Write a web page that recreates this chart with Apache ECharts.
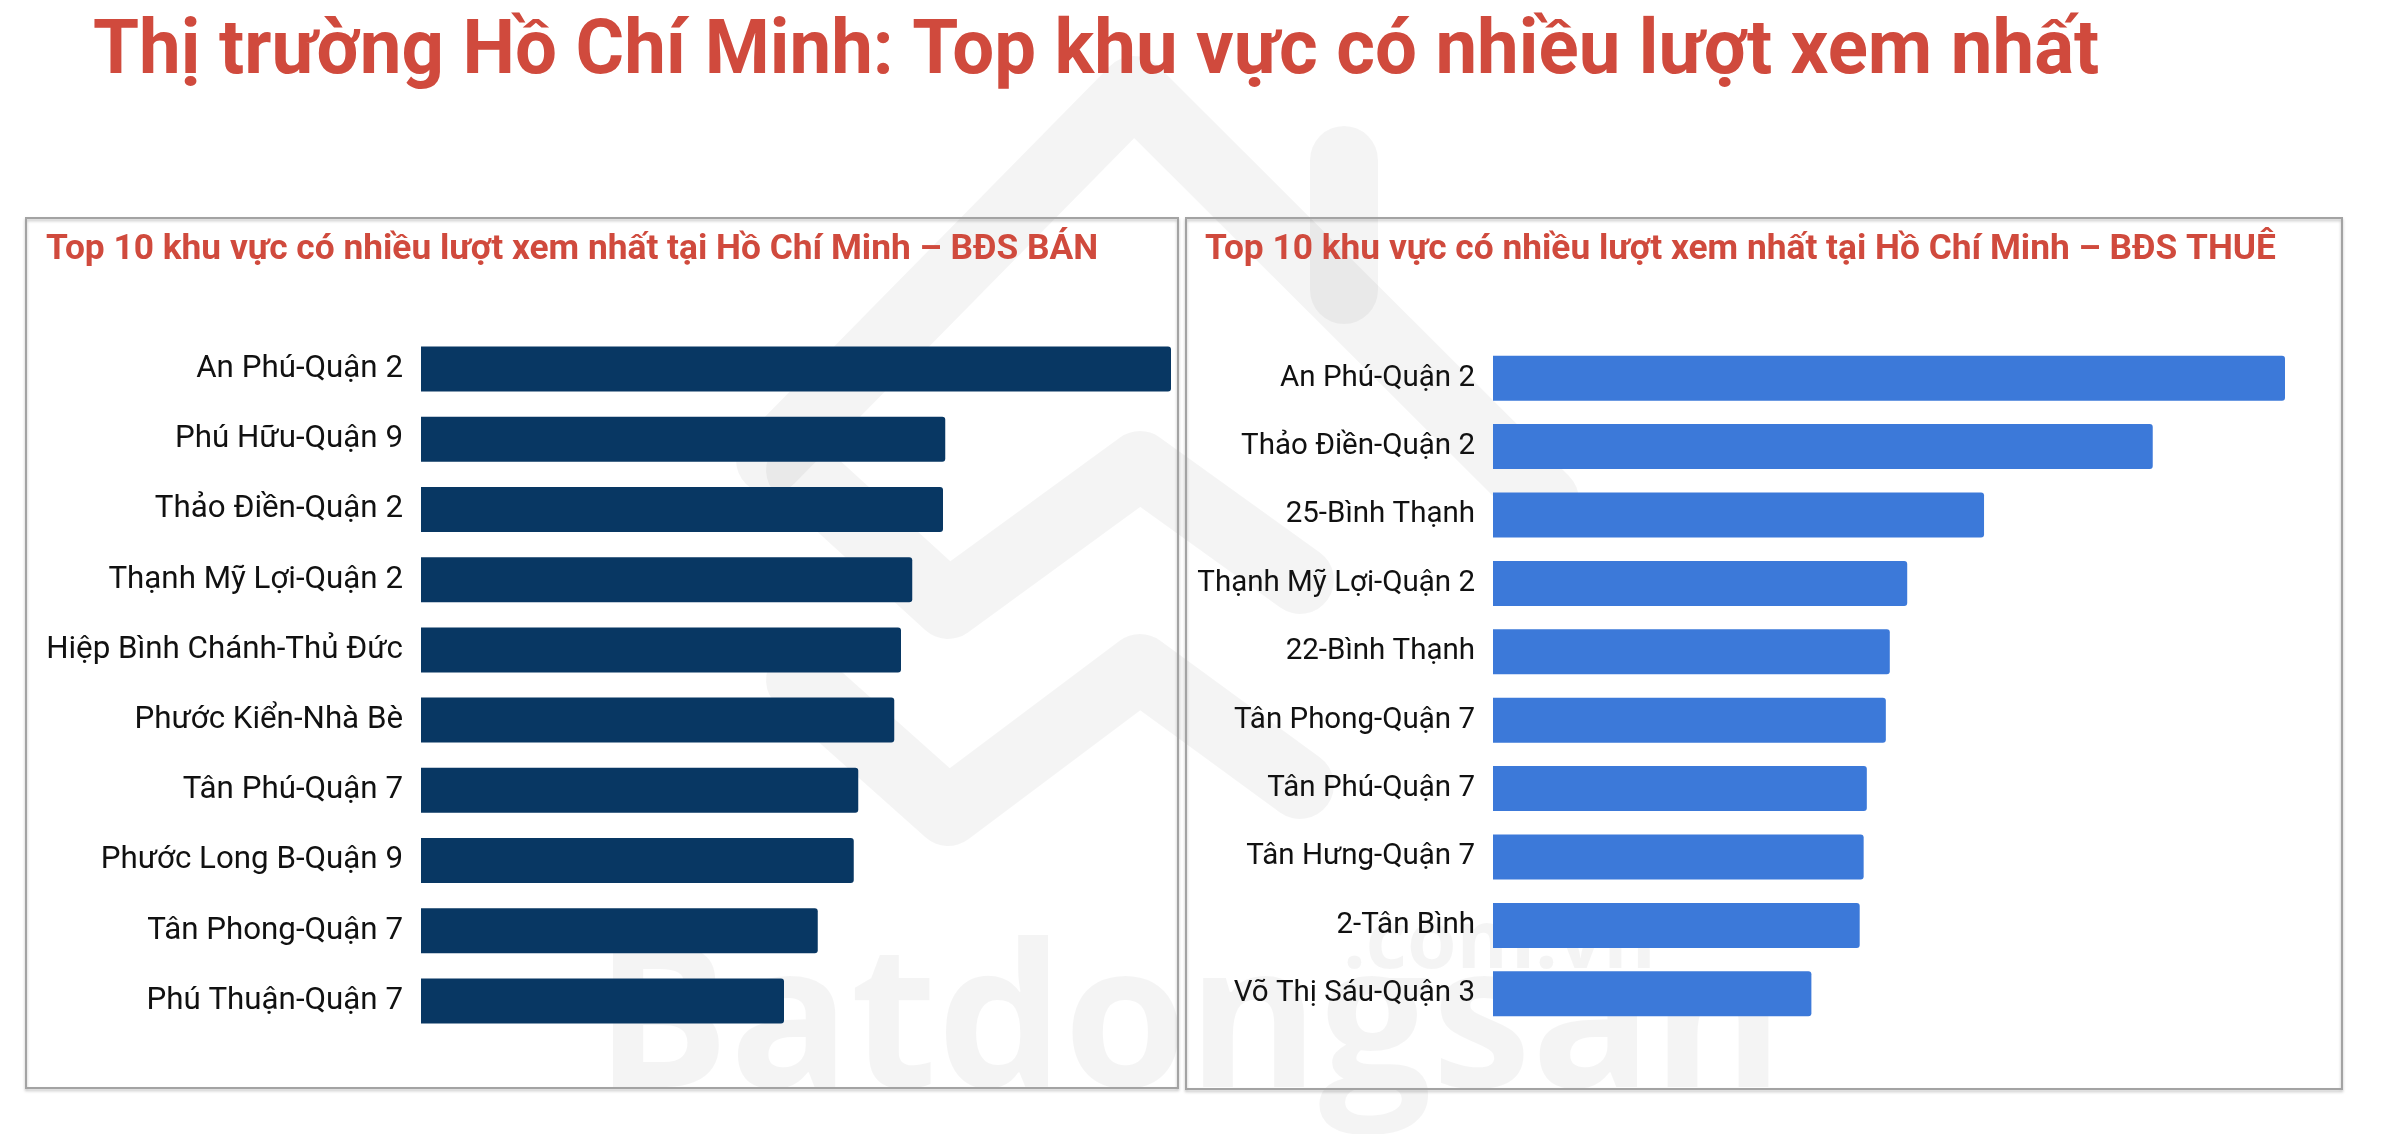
<!DOCTYPE html>
<html>
<head>
<meta charset="utf-8">
<script src="https://cdn.jsdelivr.net/npm/echarts@6/dist/echarts.min.js"></script>
<style>
  html, body { margin: 0; padding: 0; background: #fff; }
  #main { width: 2392px; height: 1134px; }
</style>
</head>
<body>
<div id="main"></div>
<script>
  // top 10 areas, for-sale listings (relative views, top = 100)
  var saleAreas = ['An Phú-Quận 2', 'Phú Hữu-Quận 9', 'Thảo Điền-Quận 2', 'Thạnh Mỹ Lợi-Quận 2',
    'Hiệp Bình Chánh-Thủ Đức', 'Phước Kiển-Nhà Bè', 'Tân Phú-Quận 7', 'Phước Long B-Quận 9',
    'Tân Phong-Quận 7', 'Phú Thuận-Quận 7'];
  var saleViews = [100, 69.9, 69.6, 65.5, 64.0, 63.1, 58.3, 57.7, 52.9, 48.4];

  // top 10 areas, rental listings
  var rentAreas = ['An Phú-Quận 2', 'Thảo Điền-Quận 2', '25-Bình Thạnh', 'Thạnh Mỹ Lợi-Quận 2',
    '22-Bình Thạnh', 'Tân Phong-Quận 7', 'Tân Phú-Quận 7', 'Tân Hưng-Quận 7',
    '2-Tân Bình', 'Võ Thị Sáu-Quận 3'];
  var rentViews = [100, 83.3, 62.0, 52.3, 50.1, 49.6, 47.2, 46.8, 46.3, 40.2];

  var mainTitle = 'Thị trường Hồ Chí Minh: Top khu vực có nhiều lượt xem nhất';
  var saleTitle = 'Top 10 khu vực có nhiều lượt xem nhất tại Hồ Chí Minh – BĐS BÁN';
  var rentTitle = 'Top 10 khu vực có nhiều lượt xem nhất tại Hồ Chí Minh – BĐS THUÊ';

  var RED = '#d04a3d';
  var myChart = echarts.init(document.getElementById('main'));

  // category axis, labels only
  function catAxis(idx, data, size) {
    return {
      type: 'category', gridIndex: idx, data: data, inverse: true,
      axisLine: { show: false }, axisTick: { show: false },
      axisLabel: { fontFamily: 'Roboto', fontSize: size, color: '#111', margin: 18 }
    };
  }
  function valAxis(idx) {
    return {
      type: 'value', gridIndex: idx, min: 0, max: 100, show: false,
      splitLine: { show: false }
    };
  }

  // watermark stroke
  var wm = 'rgba(0,0,0,0.042)';
  function wmLine(points) {
    return {
      type: 'polyline', z: -10, silent: true,
      shape: { points: points },
      style: { stroke: wm, fill: null, lineWidth: 68, lineJoin: 'round', lineCap: 'round' }
    };
  }

  var option = {
    backgroundColor: '#fff',
    animation: false,
    grid: [
      { left: 421, top: 334, width: 750, height: 702 },
      { left: 1493, top: 344, width: 792, height: 684 }
    ],
    xAxis: [valAxis(0), valAxis(1)],
    yAxis: [catAxis(0, saleAreas, 31.3), catAxis(1, rentAreas, 29.5)],
    series: [
      {
        type: 'bar', xAxisIndex: 0, yAxisIndex: 0, data: saleViews, barWidth: 45,
        itemStyle: { color: '#083763', borderRadius: [0, 3, 3, 0] }
      },
      {
        type: 'bar', xAxisIndex: 1, yAxisIndex: 1, data: rentViews, barWidth: 45,
        itemStyle: { color: '#3c79d9', borderRadius: [0, 3, 3, 0] }
      }
    ],
    graphic: [
      // faint logo watermark
      wmLine([[770, 460], [1134, 90], [1545, 500]]),
      wmLine([[1344, 290], [1344, 160]]),
      wmLine([[800, 470], [948, 605], [1140, 465], [1300, 580]]),
      wmLine([[800, 680], [948, 812], [1140, 668], [1300, 785]]),
      {
        type: 'text', z: -10, silent: true, left: 595, top: 930,
        style: { text: 'Batdongsan', fontFamily: 'Open Sans', fontWeight: 'bold', fontSize: 200, fill: wm }
      },
      {
        type: 'text', z: -10, silent: true, left: 1343, top: 905,
        style: { text: '.com.vn', fontFamily: 'Open Sans', fontWeight: 'bold', fontSize: 80, fill: wm }
      },
      // panels
      {
        type: 'rect', z: -5, silent: true,
        shape: { x: 26, y: 218, width: 1152, height: 870 },
        style: { fill: null, stroke: '#a3a3a3', lineWidth: 2, shadowBlur: 3, shadowOffsetY: 2, shadowColor: 'rgba(0,0,0,0.25)' }
      },
      {
        type: 'rect', z: -5, silent: true,
        shape: { x: 1186, y: 218, width: 1156, height: 871 },
        style: { fill: null, stroke: '#a3a3a3', lineWidth: 2, shadowBlur: 3, shadowOffsetY: 2, shadowColor: 'rgba(0,0,0,0.25)' }
      },
      // titles
      {
        type: 'text', x: 93, y: 54, scaleX: 0.979,
        style: { text: mainTitle, fontFamily: 'Roboto', fontWeight: 'bold', fontSize: 76, fill: RED, verticalAlign: 'middle' }
      },
      {
        type: 'text', x: 46, y: 250,
        style: { text: saleTitle, fontFamily: 'Roboto', fontWeight: 'bold', fontSize: 35.3, fill: RED, verticalAlign: 'middle' }
      },
      {
        type: 'text', x: 1205, y: 250,
        style: { text: rentTitle, fontFamily: 'Roboto', fontWeight: 'bold', fontSize: 35.3, fill: RED, verticalAlign: 'middle' }
      }
    ]
  };

  myChart.setOption(option);
</script>
</body>
</html>
